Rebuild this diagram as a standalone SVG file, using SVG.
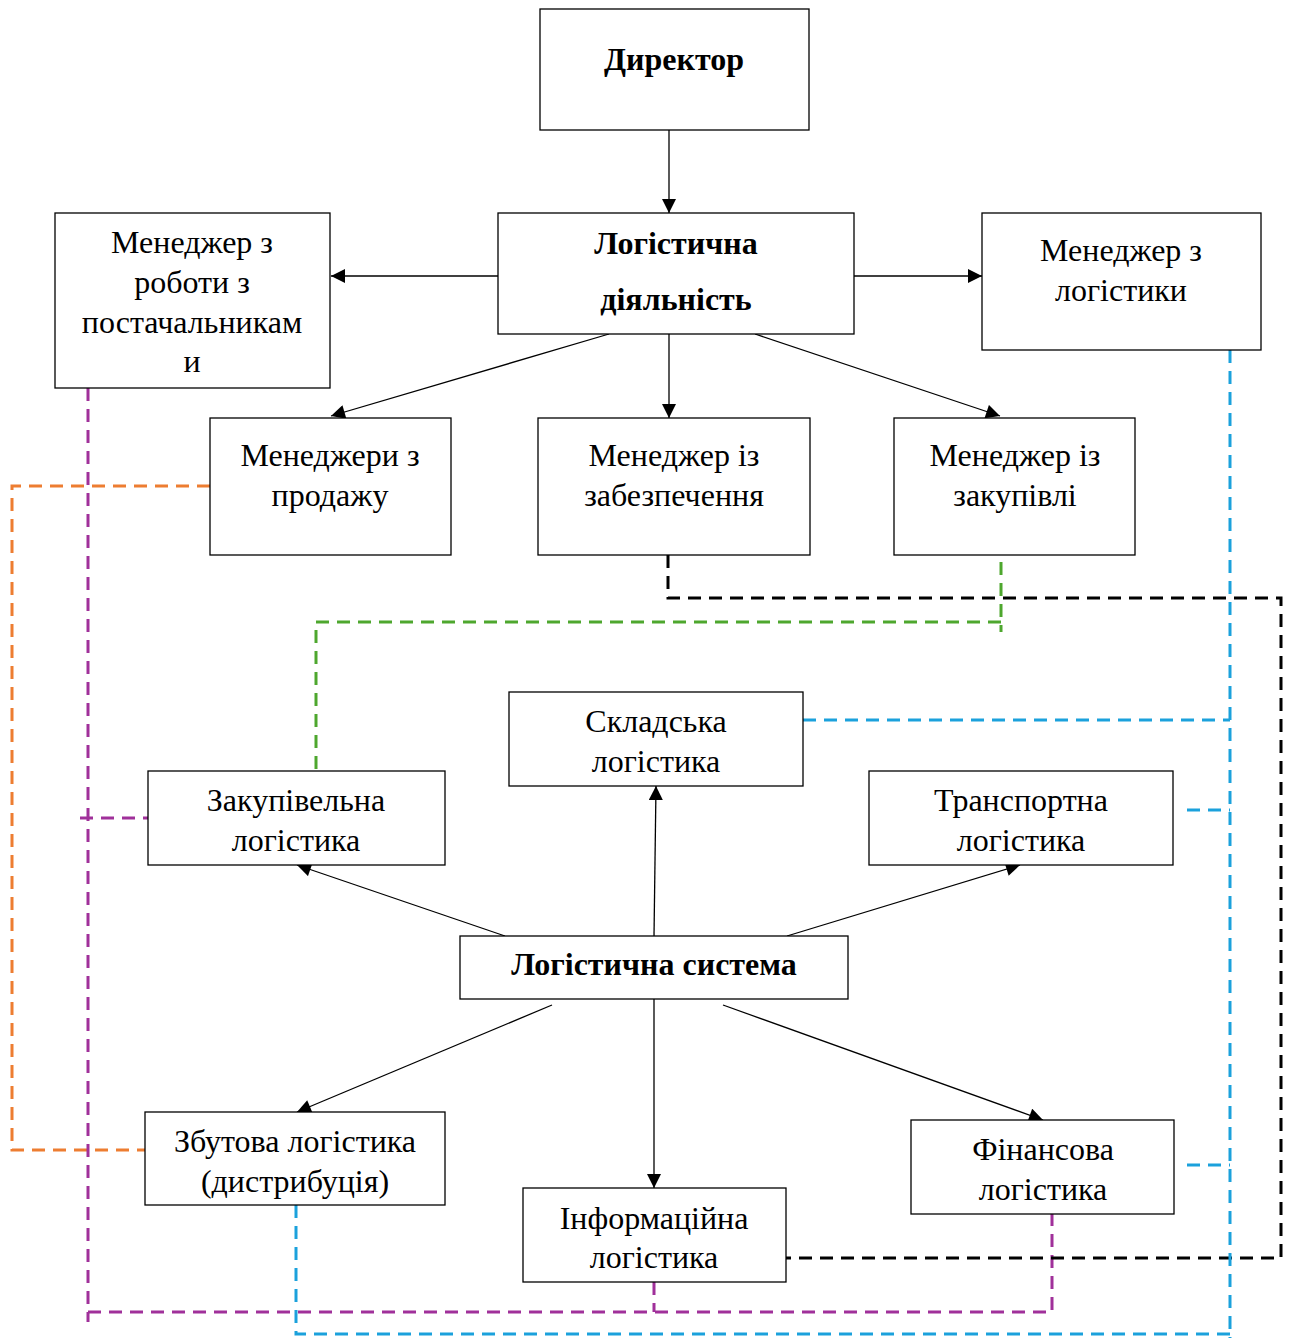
<svg xmlns="http://www.w3.org/2000/svg" width="1290" height="1338" viewBox="0 0 1290 1338">
<defs>
<marker id="ah" viewBox="0 0 10 10" refX="10" refY="5" markerWidth="15" markerHeight="14" markerUnits="userSpaceOnUse" orient="auto">
<path d="M0,0 L10,5 L0,10 z" fill="#000"/>
</marker>
<style>
.box{fill:#fff;stroke:#000;stroke-width:1.3}
.t{font-family:"Liberation Serif","Times New Roman",serif;font-size:32px;fill:#000;text-anchor:middle}
.b{font-weight:bold;font-size:32px}
.arr{stroke:#000;stroke-width:1.3;fill:none;marker-end:url(#ah)}
.d{fill:none;stroke-width:3;stroke-dasharray:13 8}
.pu{stroke:#A0309A}
.or{stroke:#ED7D31}
.gr{stroke:#4EA72E}
.bk{stroke:#000}
.bl{stroke:#1BA1DC}
</style>
</defs>
<rect width="1290" height="1338" fill="#fff"/>
<g id="connectors">
<path class="d or" d="M210,486 H12 V1150 H145"/>
<path class="d pu" d="M88,388 V1322"/>
<path class="d pu" d="M80,818 H148"/>
<path class="d pu" d="M88,1312 H1052 V1214"/>
<path class="d pu" d="M654,1282 V1312"/>
<path class="d gr" d="M1001,562 V632"/>
<path class="d gr" d="M1001,622 H316 V771"/>
<path class="d bk" d="M668,555 V598 H1281 V1258 H786"/>
<path class="d bl" d="M1230,350 V1338"/>
<path class="d bl" d="M803,720 H1230"/>
<path class="d bl" d="M1187,810 H1230"/>
<path class="d bl" d="M1187,1165 H1230"/>
<path class="d bl" d="M296,1205 V1334 H1230"/>
<line class="arr" x1="669" y1="130" x2="669" y2="213"/>
<line class="arr" x1="498" y1="276" x2="331" y2="276"/>
<line class="arr" x1="854" y1="276" x2="982" y2="276"/>
<line class="arr" x1="609" y1="334" x2="331" y2="416"/>
<line class="arr" x1="669" y1="334" x2="669" y2="418"/>
<line class="arr" x1="755" y1="334" x2="1000" y2="416"/>
<line class="arr" x1="505" y1="936" x2="297" y2="865"/>
<line class="arr" x1="654" y1="936" x2="656" y2="786"/>
<line class="arr" x1="787" y1="936" x2="1020" y2="865"/>
<line class="arr" x1="552" y1="1005" x2="297" y2="1112"/>
<line class="arr" x1="654" y1="999" x2="654" y2="1188"/>
<line class="arr" x1="723" y1="1005" x2="1043" y2="1120"/>
</g>
<g id="director"><rect class="box" x="540" y="9" width="269" height="121"/><text class="t b" x="674" y="70">Директор</text></g>
<g id="logdiyal"><rect class="box" x="498" y="213" width="356" height="121"/><text class="t b" x="676" y="254">Логістична</text><text class="t b" x="676" y="310">діяльність</text></g>
<g id="mgr-post"><rect class="box" x="55" y="213" width="275" height="175"/><text class="t" x="192" y="253">Менеджер з</text><text class="t" x="192" y="293">роботи з</text><text class="t" x="192" y="333">постачальникам</text><text class="t" x="192" y="372">и</text></g>
<g id="mgr-log"><rect class="box" x="982" y="213" width="279" height="137"/><text class="t" x="1121" y="261">Менеджер з</text><text class="t" x="1121" y="301">логістики</text></g>
<g id="mgr-prod"><rect class="box" x="210" y="418" width="241" height="137"/><text class="t" x="330" y="466">Менеджери з</text><text class="t" x="330" y="506">продажу</text></g>
<g id="mgr-zab"><rect class="box" x="538" y="418" width="272" height="137"/><text class="t" x="674" y="466">Менеджер із</text><text class="t" x="674" y="506">забезпечення</text></g>
<g id="mgr-zak"><rect class="box" x="894" y="418" width="241" height="137"/><text class="t" x="1015" y="466">Менеджер із</text><text class="t" x="1015" y="506">закупівлі</text></g>
<g id="sklad"><rect class="box" x="509" y="692" width="294" height="94"/><text class="t" x="656" y="732">Складська</text><text class="t" x="656" y="772">логістика</text></g>
<g id="zakup"><rect class="box" x="148" y="771" width="297" height="94"/><text class="t" x="296" y="811">Закупівельна</text><text class="t" x="296" y="851">логістика</text></g>
<g id="transp"><rect class="box" x="869" y="771" width="304" height="94"/><text class="t" x="1021" y="811">Транспортна</text><text class="t" x="1021" y="851">логістика</text></g>
<g id="logsys"><rect class="box" x="460" y="936" width="388" height="63"/><text class="t b" x="654" y="975">Логістична система</text></g>
<g id="zbut"><rect class="box" x="145" y="1112" width="300" height="93"/><text class="t" x="295" y="1152">Збутова логістика</text><text class="t" x="295" y="1192">(дистрибуція)</text></g>
<g id="inform"><rect class="box" x="523" y="1188" width="263" height="94"/><text class="t" x="654" y="1229">Інформаційна</text><text class="t" x="654" y="1268">логістика</text></g>
<g id="finans"><rect class="box" x="911" y="1120" width="263" height="94"/><text class="t" x="1043" y="1160">Фінансова</text><text class="t" x="1043" y="1200">логістика</text></g>
</svg>
